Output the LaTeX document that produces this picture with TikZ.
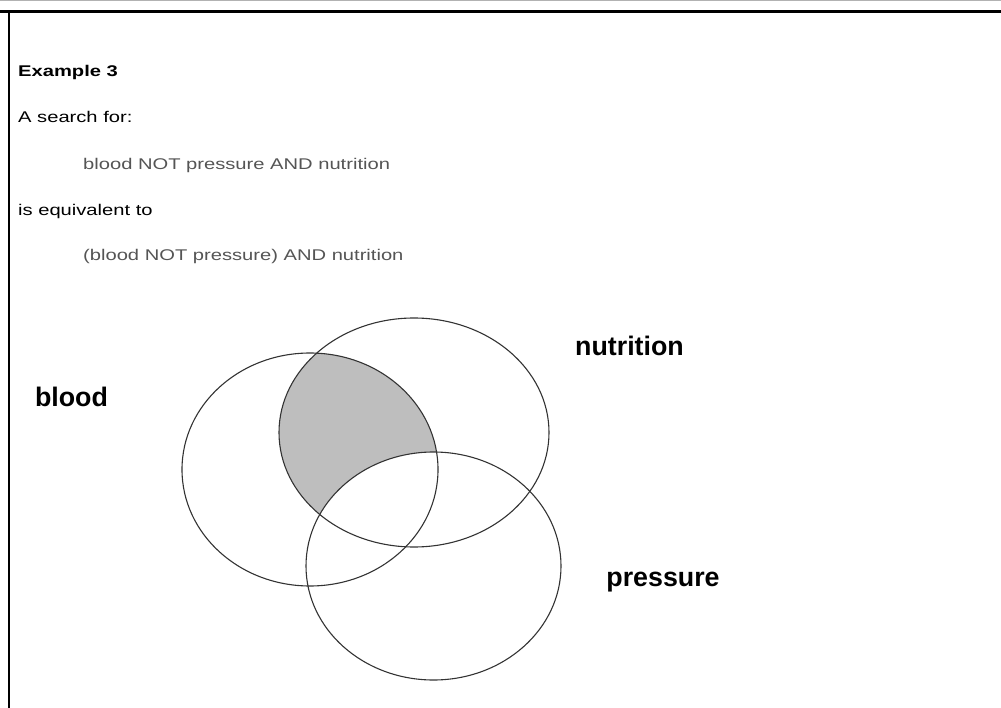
\documentclass[tikz,border=0pt]{standalone}
\usepackage{fontspec}
\setmainfont{Liberation Sans}
\newfontfamily\pagefont[FakeStretch=1.3]{Liberation Sans}
\usepackage{tikz}
\usetikzlibrary{positioning}
\definecolor{querygray}{HTML}{555555}
\definecolor{shadegray}{HTML}{BEBEBE}
\definecolor{rimgray}{HTML}{333333}
\tikzstyle{rule} = [line width=2.2pt, black]
\tikzstyle{ring} = [draw=rimgray, line width=1.1pt]

\begin{document}
\begin{tikzpicture}[x=1pt, y=-1pt,
    textline/.style={anchor=west, inner sep=0pt, font=\pagefont\fontsize{15.5}{18}\selectfont},
    query/.style={textline, text=querygray},
    setname/.style={inner sep=0pt, font=\bfseries\fontsize{26.8}{31}\selectfont}
]
\useasboundingbox (0,0) rectangle (1001,708);

% Draw the page frame
\draw[gray!60, line width=0.8pt] (0,0.5) -- (1001,0.5);
\draw[rule] (0,11.5) -- (1001,11.5);
\draw[rule] (9,11.5) -- (9,708);

% Text of the example
\node[textline, font=\pagefont\bfseries\fontsize{15.5}{18}\selectfont] (title) at (18,72) {Example 3};
\node[textline] (search) at (18,117) {A search for:};
\node[query] (first) at (83,165) {blood NOT pressure AND nutrition};
\node[textline] (equiv) at (18,211) {is equivalent to};
\node[query] (second) at (83,256) {(blood NOT pressure) AND nutrition};

% Shade blood AND nutrition, but not pressure
\begin{scope}
  \clip (310,469.5) ellipse [x radius=128, y radius=116.5];
  \clip (414,432.5) ellipse [x radius=135, y radius=114.5];
  \fill[shadegray] (414,432.5) ellipse [x radius=135, y radius=114.5];
  \fill[white] (433.5,566) ellipse [x radius=127.5, y radius=114];
\end{scope}

% Draw the three sets
\draw[ring] (310,469.5) ellipse [x radius=128, y radius=116.5];
\draw[ring] (414,432.5) ellipse [x radius=135, y radius=114.5];
\draw[ring] (433.5,566) ellipse [x radius=127.5, y radius=114];

% Label the sets
\node[setname] (blood) at (71.5,397) {blood};
\node[setname] (nutrition) at (629.5,346) {nutrition};
\node[setname] (pressure) at (663,582) {pressure};

\end{tikzpicture}
\end{document}
